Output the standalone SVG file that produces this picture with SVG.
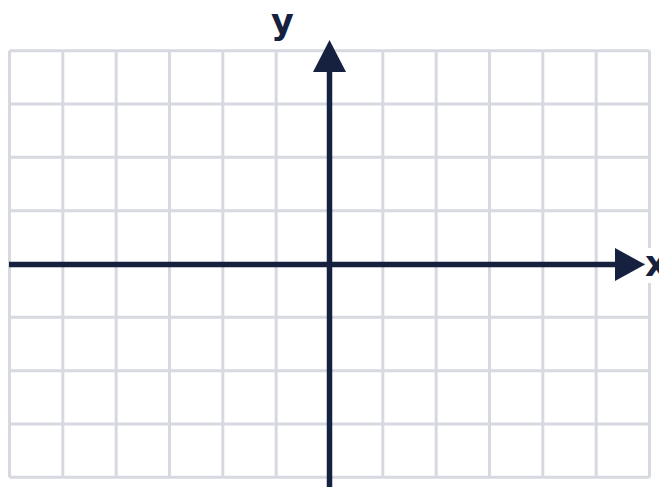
<svg xmlns="http://www.w3.org/2000/svg" width="659" height="487" viewBox="0 0 659 487">
  <defs>
    <style>
      .grid { stroke: #d6d9df; stroke-width: 3; fill: none; }
      .axis { stroke: #15213f; stroke-width: 5.5; fill: none; }
      .head { fill: #15213f; }
      .lbl { font-family: "DejaVu Sans", "Liberation Sans", sans-serif; font-weight: bold; font-size: 35px; fill: #15213f; }
    </style>
  </defs>
  <rect width="659" height="487" fill="#ffffff"/>
  <g id="grid" class="grid">
    <path d="M9.5 50.67V477.33 M62.83 50.67V477.33 M116.17 50.67V477.33 M169.5 50.67V477.33 M222.83 50.67V477.33 M276.17 50.67V477.33 M329.5 50.67V477.33 M382.83 50.67V477.33 M436.17 50.67V477.33 M489.5 50.67V477.33 M542.83 50.67V477.33 M596.17 50.67V477.33 M649.5 50.67V477.33"/>
    <path d="M9.5 50.67H649.5 M9.5 104H649.5 M9.5 157.33H649.5 M9.5 210.67H649.5 M9.5 264H649.5 M9.5 317.33H649.5 M9.5 370.67H649.5 M9.5 424H649.5 M9.5 477.33H649.5"/>
  </g>
  <g id="connectors">
    <g id="x-axis">
      <line class="axis" x1="9" y1="264.5" x2="618" y2="264.5"/>
      <polygon class="head" points="615,248 645,264.5 615,281"/>
    </g>
    <g id="y-axis">
      <line class="axis" x1="329.5" y1="487" x2="329.5" y2="70"/>
      <polygon class="head" points="313,72 329.5,40 346,72"/>
    </g>
  </g>
  <g id="label-x">
    <rect x="645" y="248" width="14" height="35" fill="#ffffff"/>
    <text class="lbl" x="645" y="275.5">x</text>
  </g>
  <g id="label-y">
    <text class="lbl" x="271" y="34">y</text>
  </g>
</svg>
